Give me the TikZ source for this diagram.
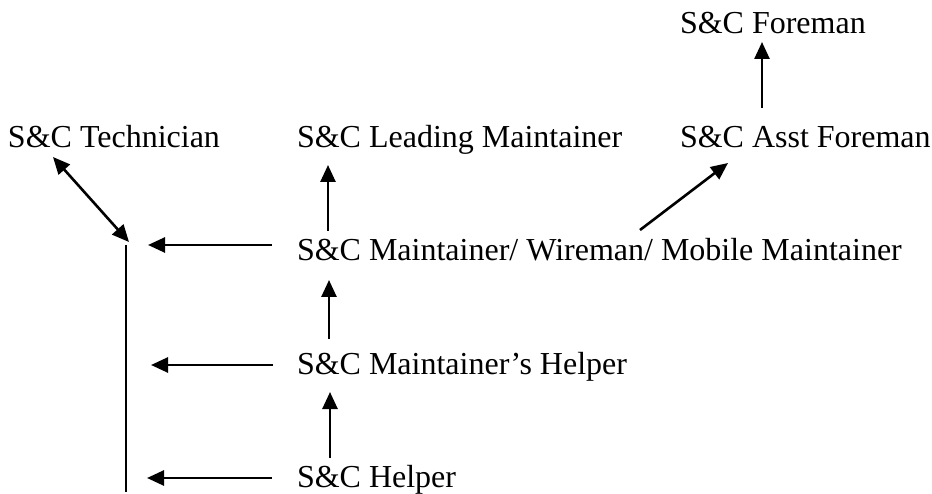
\documentclass[tikz,border=0pt]{standalone}
\usepackage{fontspec}
\setmainfont{Liberation Serif}
\usetikzlibrary{arrows.meta,calc}
\tikzset{
  lbl/.style={anchor=base west, inner sep=0pt, outer sep=0pt, font=\fontsize{32}{38}\selectfont},
  tip/.style={},
  conn/.style={line width=2.6pt, -{Triangle[length=17pt,width=15pt]}},
  dconn/.style={line width=2.6pt, {Triangle[length=17pt,width=15pt]}-{Triangle[length=17pt,width=15pt]}},
  plain/.style={line width=2.6pt}
}
\begin{document}
\begin{tikzpicture}[x=1pt,y=-1pt]
\useasboundingbox (0,0) rectangle (932,494);
% text nodes (base west)
\node[lbl] (fore) at (680,34) {S\&C Foreman};
\node[lbl] (tech) at (8,148) {S\&C Technician};
\node[lbl] (lead) at (297,148) {S\&C Leading Maintainer};
\node[lbl] (asst) at (680,148) {S\&C Asst Foreman};
\node[lbl] (maint) at (297,261) {S\&C Maintainer/ Wireman/ Mobile Maintainer};
\node[lbl] (mh) at (297,374) {S\&C Maintainer’s Helper};
\node[lbl] (help) at (297,487) {S\&C Helper};
% vertical line on the left
\coordinate (vtop) at (126,245);
\coordinate (vbot) at (126,492);
\draw[plain] (vtop) -- (vbot);
% upward arrows
\draw[conn] ($(asst.base west)+(82,-40)$) -- ($(fore.base west)+(82,8)$);
\draw[conn] ($(maint.base west)+(31,-30)$) -- ($(lead.base west)+(31,17)$);
\draw[conn] ($(mh.base west)+(32,-35)$) -- ($(maint.base west)+(32,19)$);
\draw[conn] ($(help.base west)+(33,-29)$) -- ($(mh.base west)+(33,18)$);
% diagonal to Asst Foreman
\draw[conn] ($(maint.base west)+(343,-31)$) -- ($(asst.base west)+(48,15)$);
% double arrow to Technician
\draw[dconn] ($(tech.base west)+(45,9)$) -- ($(vtop)+(3,-3)$);
% horizontal arrows to the line
\draw[conn] ($(maint.base west)+(-25,-16)$) -- ($(vtop)+(22,0)$);
\draw[conn] ($(mh.base west)+(-24,-9)$) -- ($(vtop)+(25,120)$);
\draw[conn] ($(help.base west)+(-25,-9)$) -- ($(vtop)+(21,233)$);
\end{tikzpicture}
\end{document}
